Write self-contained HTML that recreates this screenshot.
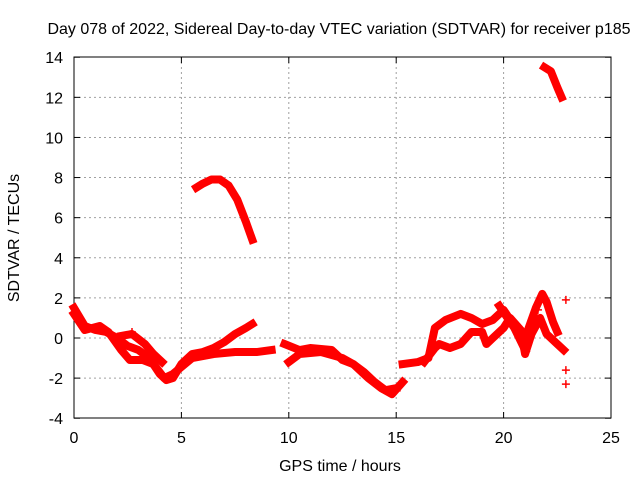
<!DOCTYPE html>
<html><head><meta charset="utf-8"><style>
body{margin:0;background:#fff}
svg text{font-family:"Liberation Sans",sans-serif;font-size:16px;fill:#000}
</style></head><body>
<svg width="640" height="480">
<rect width="640" height="480" fill="#fff"/>
<g id="grid"></g>
<g id="axes"></g>
<g id="series"></g>
<text x="339" y="34" text-anchor="middle">Day 078 of 2022, Sidereal Day-to-day VTEC variation (SDTVAR) for receiver p185</text>
<text x="340" y="471" text-anchor="middle">GPS time / hours</text>
<text transform="translate(19,238) rotate(-90)" text-anchor="middle">SDTVAR / TECUs</text>
</svg>
<script>
const xTicks=[0,5,10,15,20,25];
const yTicks=[-4,-2,0,2,4,6,8,10,12,14];
const trackA=[[0,1.5],[0.5,0.6],[1,0.4],[1.5,0.3],[2,0],[2.5,-0.4],[3,-0.6],[3.5,-1.0],[4,-1.8],[4.3,-2.1],[4.6,-2.0],[5,-1.3],[5.5,-0.8],[6,-0.7],[6.5,-0.5],[7,-0.2],[7.5,0.2],[8,0.5],[8.3,0.7]];
const trackB=[[0,1.2],[0.5,0.4],[1.2,0.6],[1.6,0.3],[2.2,-0.6],[2.6,-1.1],[3.2,-1.1],[3.7,-1.3],[4.2,-2.0],[4.6,-1.8],[5.5,-1.0],[6.5,-0.8],[7.5,-0.7],[8.5,-0.7],[9.2,-0.6]];
const trackC=[[2.2,0.1],[2.7,0.2],[3.3,-0.3],[3.7,-0.8],[4.1,-1.2]];
const trackD=[[9.8,-0.3],[10.5,-0.6],[11,-0.5],[12,-0.6],[12.5,-1.1],[13,-1.3],[13.5,-1.7],[14,-2.2],[14.5,-2.6],[15,-2.5]];
const trackE=[[10,-1.2],[10.5,-0.8],[11.5,-0.7],[12.5,-1.0],[13,-1.3],[13.7,-2.0],[14.3,-2.5],[14.8,-2.8],[15.3,-2.2]];
const trackF=[[15.3,-1.3],[16,-1.2],[16.5,-1.0],[16.8,0.5],[17.3,0.9],[18,1.2],[18.5,1.0],[19,0.7],[19.5,0.9],[20,1.4],[20.5,0.6],[21,0],[21.5,1.5],[21.8,2.2],[22,1.8],[22.3,0.8],[22.5,0.3]];
const trackG=[[16.3,-1.2],[16.8,-0.5],[17,-0.3],[17.5,-0.5],[18,-0.3],[18.5,0.3],[19,0.3],[19.2,-0.3],[19.5,0],[20,0.5],[20.3,1.0],[20.8,0.4],[21,-0.8],[21.3,0.2],[21.7,1.0],[22,0.2],[22.5,-0.3],[22.8,-0.6]];
const trackH=[[19.8,1.6],[20.5,0.5],[21,-0.6]];
const trackI=[[5.7,7.5],[6,7.7],[6.4,7.9],[6.8,7.9],[7.2,7.6],[7.6,6.9],[8,5.8],[8.3,4.9]];
const trackJ=[[21.9,13.5],[22.2,13.3],[22.5,12.5],[22.7,12.0]];
const strays=[[22.9,1.9],[22.9,-1.6],[22.9,-2.3],[21.6,1.4],[2.7,0.3]];
const tracks=[trackA,trackB,trackC,trackD,trackE,trackF,trackG,trackH,trackI,trackJ];
const X=h=>74+h*537/25, Y=v=>338-v*361/18;
const NS='http://www.w3.org/2000/svg';
function mk(tag,attrs,parent){const e=document.createElementNS(NS,tag);for(const k in attrs)e.setAttribute(k,attrs[k]);parent.appendChild(e);return e;}
const grid=document.getElementById('grid'),axes=document.getElementById('axes'),series=document.getElementById('series');
xTicks.forEach(t=>{
 if(t>0&&t<25){const g=mk('line',{x1:X(t),x2:X(t),y1:57,y2:418,stroke:'#a0a0a0','stroke-dasharray':'2,3'},grid);
 
 }
 mk('line',{x1:X(t),x2:X(t),y1:418,y2:412,stroke:'#000'},axes);
 mk('line',{x1:X(t),x2:X(t),y1:57,y2:63,stroke:'#000'},axes);
 const tx=mk('text',{x:X(t),y:443,'text-anchor':'middle'},axes);tx.textContent=t;
 
 
});
yTicks.forEach(t=>{
 if(t>-4&&t<14){const g=mk('line',{x1:74,x2:611,y1:Y(t),y2:Y(t),stroke:'#a0a0a0','stroke-dasharray':'2,3'},grid);
 
 }
 mk('line',{x1:74,x2:80,y1:Y(t),y2:Y(t),stroke:'#000'},axes);
 mk('line',{x1:605,x2:611,y1:Y(t),y2:Y(t),stroke:'#000'},axes);
 const tx=mk('text',{x:63,y:Y(t)+6,'text-anchor':'end'},axes);tx.textContent=t;
 
 
});
mk('rect',{x:74,y:57,width:537,height:361,fill:'none',stroke:'#000'},axes);
tracks.forEach(tr=>{
 const p=mk('polyline',{points:tr.map(d=>X(d[0])+','+Y(d[1])).join(' '),fill:'none',stroke:'#ff0000','stroke-width':8,'stroke-linejoin':'round','stroke-linecap':'square'},series);
 
 
});
strays.forEach(d=>{
 const p=mk('path',{d:`M${X(d[0])-4},${Y(d[1])}h8M${X(d[0])},${Y(d[1])-4}v8`,stroke:'#ff0000','stroke-width':1.5},series);
 
 
});
</script>
</body></html>
